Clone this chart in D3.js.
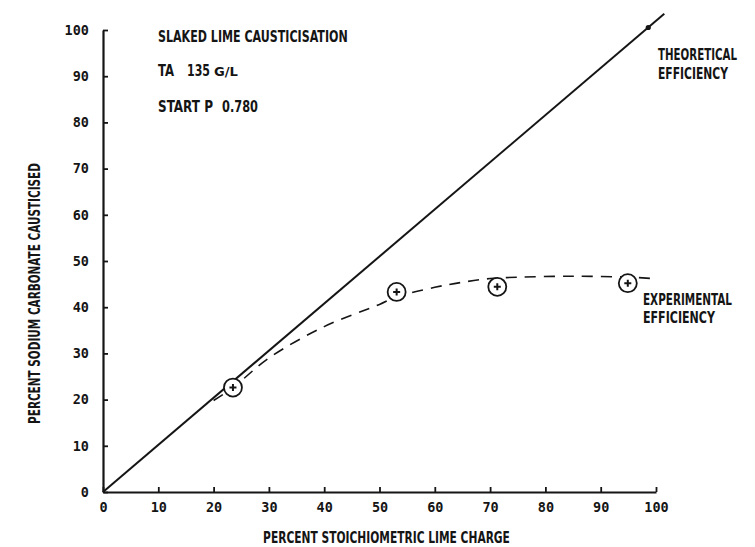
<!DOCTYPE html>
<html>
<head>
<meta charset="utf-8">
<script src="https://cdn.jsdelivr.net/npm/d3@7"></script>
<style>
  html, body { margin: 0; padding: 0; background: #fff; }
  svg { display: block; }
  .tick text { font-family: "DejaVu Sans Mono", monospace; font-weight: bold; font-size: 13.5px; fill: #151515; }
  .lbl { font-family: "DejaVu Sans Condensed", "Liberation Sans Narrow", sans-serif; font-weight: bold; fill: #151515; }
</style>
</head>
<body>
<script>
// Axis ticks (percent)
const xTicks = [0, 10, 20, 30, 40, 50, 60, 70, 80, 90, 100];
const yTicks = [0, 10, 20, 30, 40, 50, 60, 70, 80, 90, 100];

// Theoretical efficiency: 1:1 line
const theoreticalX = [0, 101.5];
const theoreticalY = [0, 103.5];

// Measured points
const expX = [23.5, 53.1, 71.3, 94.9];
const expY = [22.6, 43.3, 44.4, 45.2];

// Fitted experimental curve
const curveX = [20, 23.5, 30, 40, 50, 53, 60, 65, 70, 75, 85, 95, 99.5];
const curveY = [19.8, 22.6, 29.0, 35.8, 40.6, 42.2, 44.3, 45.4, 46.2, 46.5, 46.7, 46.5, 46.2];

const W = 755, H = 547;
const ink = "#151515";

const svg = d3.select("body").append("svg")
  .attr("width", W).attr("height", H);

const x = d3.scaleLinear().domain([0, 100]).range([103, 656]);
const y = d3.scaleLinear().domain([0, 100]).range([492, 30]);

// Axes
const xAxis = d3.axisBottom(x).tickValues(xTicks).tickSize(-5).tickSizeOuter(0).tickPadding(10)
  .tickFormat(d3.format("d"));
const yAxis = d3.axisLeft(y).tickValues(yTicks).tickSize(-5).tickSizeOuter(0).tickPadding(14)
  .tickFormat(d3.format("d"));

const gx = svg.append("g").attr("transform", `translate(0,${y(0)})`).call(xAxis);
const gy = svg.append("g").attr("transform", `translate(${x(0)},0)`).call(yAxis);
[gx, gy].forEach(g => {
  g.select(".domain").attr("stroke", ink).attr("stroke-width", 2.2);
  g.selectAll(".tick line").attr("stroke", ink).attr("stroke-width", 1.8);
});

// Theoretical line
const slope = theoreticalY[1] / theoreticalX[1];
svg.append("path")
  .datum(theoreticalX.map((v, i) => [v, theoreticalY[i]]))
  .attr("d", d3.line().x(d => x(d[0])).y(d => y(d[1])))
  .attr("fill", "none").attr("stroke", ink).attr("stroke-width", 2);

// Small arrow mark near the top of the theoretical line
svg.append("circle")
  .attr("cx", x(98.6)).attr("cy", y(98.6 * slope)).attr("r", 2.6).attr("fill", ink);

// Experimental curve (dashed)
svg.append("path")
  .datum(curveX.map((v, i) => [v, curveY[i]]))
  .attr("d", d3.line().x(d => x(d[0])).y(d => y(d[1])).curve(d3.curveCatmullRom.alpha(0.5)))
  .attr("fill", "none").attr("stroke", ink).attr("stroke-width", 1.6)
  .attr("stroke-dasharray", "11,8");

// Measured points: circled plus
const pts = svg.append("g").selectAll("g")
  .data(expX.map((v, i) => [v, expY[i]]))
  .join("g")
  .attr("transform", d => `translate(${x(d[0])},${y(d[1])})`);
pts.append("circle").attr("r", 9).attr("fill", "#fff")
  .attr("stroke", ink).attr("stroke-width", 1.8);
pts.append("path").attr("d", "M-3.5,0H3.5M0,-3.5V3.5")
  .attr("stroke", ink).attr("stroke-width", 2);

// Text set in a narrow face: squeeze each run horizontally to its width
function label(txt, px, py, len, opts = {}) {
  const size = opts.size || 16;
  const g = svg.append("g");
  const t = g.append("text").attr("class", "lbl")
    .attr("font-size", size)
    .attr("text-anchor", opts.anchor || "start")
    .text(txt);
  const natural = t.node().getComputedTextLength();
  const sx = len / natural;
  const rot = opts.rotate ? ` rotate(${opts.rotate})` : "";
  g.attr("transform", `translate(${px},${py})${rot} scale(${sx},1)`);
  return t;
}

label("SLAKED LIME CAUSTICISATION", 158, 42, 190);
label("TA", 158, 76, 16);
label("135", 187, 76, 23);
label("G/L", 214, 76, 24, { size: 11.5 });
label("START P", 158, 112, 55);
label("0.780", 222, 112, 36);

label("THEORETICAL", 658, 60, 79);
label("EFFICIENCY", 658, 79, 70);
label("EXPERIMENTAL", 643, 305, 89);
label("EFFICIENCY", 643, 323, 72);

// Axis titles
label("PERCENT STOICHIOMETRIC LIME CHARGE", 386.5, 543, 247, { anchor: "middle" });
label("PERCENT SODIUM CARBONATE CAUSTICISED", 40, 293.5, 261, { anchor: "middle", rotate: -90 });
</script>
</body>
</html>
